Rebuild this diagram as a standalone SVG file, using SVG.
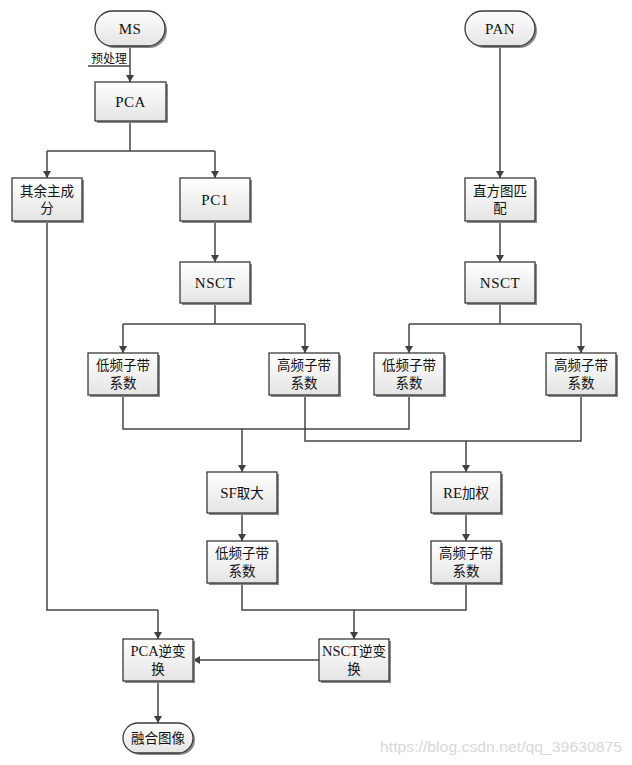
<svg xmlns="http://www.w3.org/2000/svg" width="632" height="765" viewBox="0 0 632 765">
<defs>
<linearGradient id="g" x1="0" y1="0" x2="0" y2="1">
<stop offset="0" stop-color="#ffffff"/>
<stop offset="1" stop-color="#e4e4e4"/>
</linearGradient>
<marker id="ar" markerUnits="userSpaceOnUse" markerWidth="10" markerHeight="10" refX="7" refY="4" orient="auto">
<path d="M0,0 L7,4 L0,8 Z" fill="#404040"/>
</marker>
<style>
.box{fill:url(#g);stroke:#3a3a3a;stroke-width:1.3}
.sh{fill:#8a8a8a}
.t{font-family:"Liberation Serif","Noto Sans CJK SC",serif;font-size:13.5px;fill:#111;text-anchor:middle}
.l{font-size:15px;letter-spacing:0.5px}
.c{fill:none;stroke:#454545;stroke-width:1.5}
.ca{fill:none;stroke:#454545;stroke-width:1.5;marker-end:url(#ar)}
.wm{font-family:"Liberation Sans",Arial,sans-serif;font-size:15px;fill:#d8d8d8}
</style>
</defs>
<rect width="632" height="765" fill="#ffffff"/>

<g id="connectors">
<path class="ca" d="M130,46 V82"/>
<path class="c" d="M88,66 H130"/>
<path class="c" d="M130,121 V151 M47,151 H215"/>
<path class="ca" d="M47,151 V178"/>
<path class="ca" d="M215,151 V178"/>
<path class="ca" d="M215,221 V262"/>
<path class="ca" d="M500,46 V178"/>
<path class="ca" d="M500,221 V262"/>
<path class="c" d="M215,303 V324 M123,324 H305"/>
<path class="ca" d="M123,324 V353"/>
<path class="ca" d="M305,324 V353"/>
<path class="c" d="M500,303 V324 M409,324 H581"/>
<path class="ca" d="M409,324 V353"/>
<path class="ca" d="M581,324 V353"/>
<path class="c" d="M123,395 V429 H409 V395"/>
<path class="ca" d="M242,429 V472"/>
<path class="c" d="M305,395 V441 H581 V395"/>
<path class="ca" d="M466,441 V472"/>
<path class="ca" d="M242,513 V541"/>
<path class="ca" d="M466,513 V541"/>
<path class="c" d="M242,583 V610 H466 V583"/>
<path class="ca" d="M354,610 V639"/>
<path class="c" d="M47,221 V610 H158"/>
<path class="ca" d="M158,610 V639"/>
<path class="ca" d="M319,660 H193"/>
<path class="ca" d="M158,681 V723"/>
</g>

<g id="MS">
<rect class="sh" x="97" y="13" width="70" height="35" rx="17.5"/>
<rect class="box" x="95" y="11" width="70" height="35" rx="17.5"/>
<text class="t l" x="130" y="34">MS</text>
</g>
<g id="label-preprocess">
<text class="t" x="109" y="63" style="font-size:12px">预处理</text>
</g>
<g id="PAN">
<rect class="sh" x="467" y="13" width="70" height="35" rx="17.5"/>
<rect class="box" x="465" y="11" width="70" height="35" rx="17.5"/>
<text class="t l" x="500" y="34">PAN</text>
</g>
<g id="PCA">
<rect class="sh" x="97" y="84" width="71" height="39"/>
<rect class="box" x="95" y="82" width="71" height="39"/>
<text class="t l" x="130.5" y="106.5">PCA</text>
</g>
<g id="rest">
<rect class="sh" x="14" y="180" width="70" height="43"/>
<rect class="box" x="12" y="178" width="70" height="43"/>
<text class="t" x="47" y="195.5">其余主成</text>
<text class="t" x="47" y="213">分</text>
</g>
<g id="PC1">
<rect class="sh" x="182" y="180" width="70" height="43"/>
<rect class="box" x="180" y="178" width="70" height="43"/>
<text class="t l" x="215" y="204.5">PC1</text>
</g>
<g id="hist">
<rect class="sh" x="467" y="180" width="70" height="43"/>
<rect class="box" x="465" y="178" width="70" height="43"/>
<text class="t" x="500" y="195.5">直方图匹</text>
<text class="t" x="500" y="213">配</text>
</g>
<g id="NSCT1">
<rect class="sh" x="182" y="264" width="70" height="41"/>
<rect class="box" x="180" y="262" width="70" height="41"/>
<text class="t l" x="215" y="287.5">NSCT</text>
</g>
<g id="NSCT2">
<rect class="sh" x="467" y="264" width="70" height="41"/>
<rect class="box" x="465" y="262" width="70" height="41"/>
<text class="t l" x="500" y="287.5">NSCT</text>
</g>
<g id="low1">
<rect class="sh" x="90" y="355" width="70" height="42"/>
<rect class="box" x="88" y="353" width="70" height="42"/>
<text class="t" x="123" y="370">低频子带</text>
<text class="t" x="123" y="388">系数</text>
</g>
<g id="high1">
<rect class="sh" x="271" y="355" width="70" height="42"/>
<rect class="box" x="269" y="353" width="70" height="42"/>
<text class="t" x="304" y="370">高频子带</text>
<text class="t" x="304" y="388">系数</text>
</g>
<g id="low2">
<rect class="sh" x="376" y="355" width="70" height="42"/>
<rect class="box" x="374" y="353" width="70" height="42"/>
<text class="t" x="409" y="370">低频子带</text>
<text class="t" x="409" y="388">系数</text>
</g>
<g id="high2">
<rect class="sh" x="548" y="355" width="70" height="42"/>
<rect class="box" x="546" y="353" width="70" height="42"/>
<text class="t" x="581" y="370">高频子带</text>
<text class="t" x="581" y="388">系数</text>
</g>
<g id="SF">
<rect class="sh" x="209" y="474" width="70" height="41"/>
<rect class="box" x="207" y="472" width="70" height="41"/>
<text class="t" x="242" y="497.5"><tspan style="font-size:15px">SF</tspan>取大</text>
</g>
<g id="RE">
<rect class="sh" x="433" y="474" width="70" height="41"/>
<rect class="box" x="431" y="472" width="70" height="41"/>
<text class="t" x="466" y="497.5"><tspan style="font-size:15px">RE</tspan>加权</text>
</g>
<g id="low3">
<rect class="sh" x="209" y="543" width="70" height="42"/>
<rect class="box" x="207" y="541" width="70" height="42"/>
<text class="t" x="242" y="558">低频子带</text>
<text class="t" x="242" y="576">系数</text>
</g>
<g id="high3">
<rect class="sh" x="433" y="543" width="70" height="42"/>
<rect class="box" x="431" y="541" width="70" height="42"/>
<text class="t" x="466" y="558">高频子带</text>
<text class="t" x="466" y="576">系数</text>
</g>
<g id="invPCA">
<rect class="sh" x="125" y="641" width="70" height="42"/>
<rect class="box" x="123" y="639" width="70" height="42"/>
<text class="t" x="158" y="656"><tspan style="font-size:14.5px">PCA</tspan>逆变</text>
<text class="t" x="158" y="674">换</text>
</g>
<g id="invNSCT">
<rect class="sh" x="321" y="641" width="70" height="42"/>
<rect class="box" x="319" y="639" width="70" height="42"/>
<text class="t" x="354" y="656"><tspan style="font-size:14.5px">NSCT</tspan>逆变</text>
<text class="t" x="354" y="674">换</text>
</g>
<g id="fused">
<rect class="sh" x="125" y="725" width="70" height="30" rx="15"/>
<rect class="box" x="123" y="723" width="70" height="30" rx="15"/>
<text class="t" x="158" y="742.5">融合图像</text>
</g>
<text class="wm" x="380" y="752" textLength="242" lengthAdjust="spacingAndGlyphs">https://blog.csdn.net/qq_39630875</text>
</svg>
